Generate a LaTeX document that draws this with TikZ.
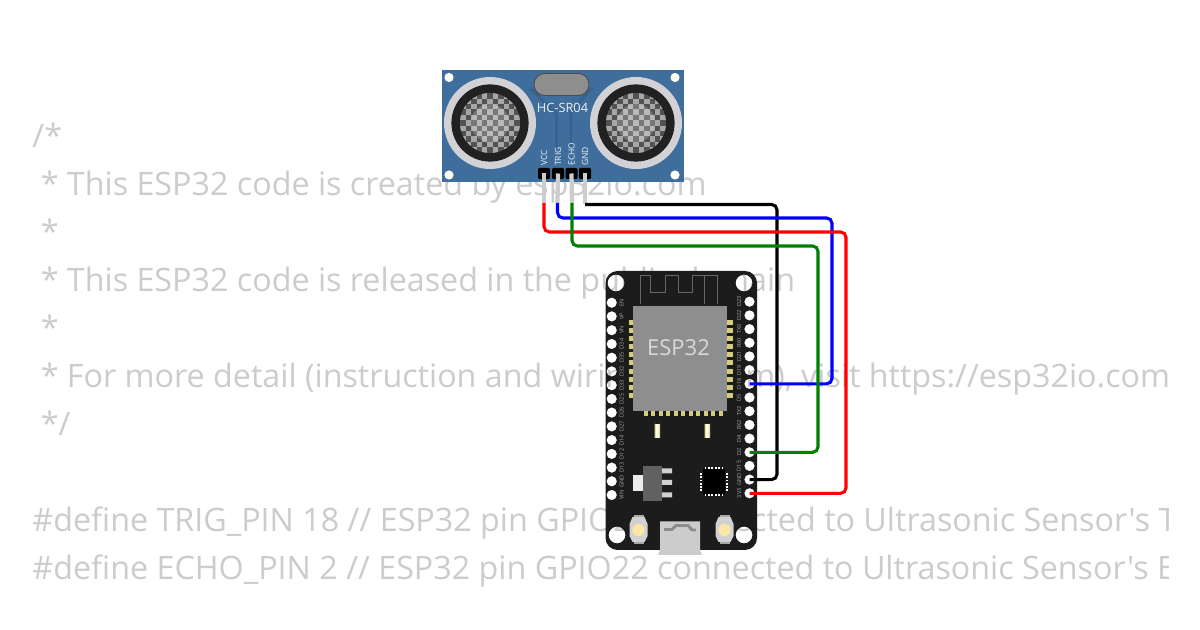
\documentclass[tikz,border=0pt]{standalone}
\usepackage{fontspec}
\usetikzlibrary{calc}
\setmainfont{Open Sans}
\newfontfamily\codefont{Open Sans}
\definecolor{codegray}{HTML}{CCCCCC}
\definecolor{boardblue}{HTML}{3F6E9C}
\definecolor{traceblue}{HTML}{386390}
\definecolor{ringgray}{HTML}{D2D2D6}
\definecolor{boardblack}{HTML}{1C1C1C}
\definecolor{modgray}{HTML}{8E8E8E}
\definecolor{padgold}{HTML}{D6CC7E}
\definecolor{glow}{HTML}{FBE6A8}
\definecolor{wgreen}{HTML}{008000}
\definecolor{stubgray}{HTML}{CDCDCD}
\tikzset{
  codeline/.style={anchor=base west,inner sep=0pt,text=codegray,font=\codefont\fontsize{24.2pt}{24.2pt}\selectfont},
  wire/.style={line width=2.3pt,rounded corners=4pt},
  stub/.style={line width=3.2pt,stubgray},
  pinlabel/.style={rotate=90,inner sep=0pt,text=#1,font=\fontsize{4.2pt}{4.5pt}\selectfont},
  sensorlabel/.style={rotate=90,anchor=west,inner sep=0pt,text=white!90!boardblue,font=\fontsize{6.4pt}{7pt}\selectfont},
  headerpin/.style={fill=black,rounded corners=1.5pt,minimum width=9pt,minimum height=8.6pt,inner sep=0pt},
}
\newcommand{\sensoreye}[2]{%
  \fill[ringgray] (#1,#2) circle (46);
  \fill[black!87] (#1,#2) circle (38.6);
  \begin{scope}
    \clip (#1,#2) circle (30);
    \fill[black!68] (#1-31,#2-31) rectangle (#1+31,#2+31);
    \foreach \i in {-6,...,6}{\foreach \j in {-6,...,6}{%
      \pgfmathtruncatemacro{\chkodd}{mod(\i+\j+24,2)}%
      \ifnum\chkodd=0\relax
        \fill[black!35] ({#1+\i*5.4-2.7},{#2+\j*5.4-2.7}) rectangle ++(5.4,5.4);
      \fi}}
    \fill[white,opacity=.22] (#1,#2) circle (19);
  \end{scope}
}
\begin{document}
\begin{tikzpicture}[x=0.75pt,y=-0.75pt]
\useasboundingbox (0,0) rectangle (1200,630);
\fill[white] (0,0) rectangle (1200,630);
% code text
\begin{scope}
\clip (0,0) rectangle (1168,630);
\node[codeline] (c1) at (32.2,148) {/*};
\node[codeline] (c2) at (40.5,196) {* This ESP32 code is created by esp32io.com};
\node[codeline] (c3) at (40.5,244) {*};
\node[codeline] (c4) at (40.5,292) {* This ESP32 code is released in the public domain};
\node[codeline] (c5) at (40.5,340) {*};
\node[codeline] (c6) at (40.5,388) {* For more detail (instruction and wiring diagram), visit https://esp32io.com};
\node[codeline] (c7) at (40.5,436) {*/};
\node[codeline] (c8) at (32.2,532) {\#define TRIG\_PIN 18 // ESP32 pin GPIO23 connected to Ultrasonic Sensor's TRIG pin};
\node[codeline] (c9) at (32.2,580) {\#define ECHO\_PIN 2 // ESP32 pin GPIO22 connected to Ultrasonic Sensor's ECHO pin};
\end{scope}
% HC-SR04 board
\fill[boardblue] (442,70) rectangle (684,182);
\foreach \x/\y in {449/77.5,675/77.5,449/175,675/175}{\fill[white!96!yellow] (\x,\y) circle (4.6);}
\draw[traceblue,line width=2.2pt] (530,88) -- (556.5,114) -- (556.5,147);
\draw[traceblue,line width=2.2pt] (592,88) -- (571,112) -- (571,147);
\sensoreye{490}{123}
\sensoreye{636}{123}
\fill[modgray,draw=black!70,line width=.7pt,rounded corners=8pt] (534,73.5) rectangle (589,95.5);
\node[inner sep=0pt,text=white!88!boardblue,font=\fontsize{9.6pt}{10pt}\selectfont] (hc) at (562.5,108) {HC-SR04};
\node[sensorlabel] (lv) at (544,166) {VCC};
\node[sensorlabel] (lt) at (558,166) {TRIG};
\node[sensorlabel] (le) at (571.5,166) {ECHO};
\node[sensorlabel] (lg) at (585,166) {GND};
\node[headerpin] (hv) at (544,173.5) {};
\node[headerpin] (ht) at (558,173.5) {};
\node[headerpin] (he) at (571.5,173.5) {};
\node[headerpin] (hg) at (585,173.5) {};
% ESP32 board with real holes
\fill[boardblack,even odd rule]
  [rounded corners=9pt] (605.5,271) rectangle (757,550) [sharp corners]
  \foreach \y in {302.7,316.4,330.2,344,357.7,371.4,385.2,398.9,412.6,426.4,440.1,453.9,467.6,481.3,495}{(611.7,\y) circle (5.2)}
  \foreach \y in {301.7,315.4,329.1,342.8,356.4,370.1,383.8,397.5,411.2,424.9,438.6,452.3,465.9,479.6,493.3}{(749.5,\y) circle (5.2)}
  (616,283) circle (8.4) (744,283) circle (8.4) (617,535) circle (8.4) (744,535) circle (8.4);
\foreach \n/\y in {0/302.7,1/316.4,2/330.2,3/344,4/357.7,5/371.4,6/385.2,7/398.9,8/412.6,9/426.4,10/440.1,11/453.9,12/467.6,13/481.3,14/495}{
  \coordinate (L\n) at (611.7,\y);
}
\foreach \n/\y in {0/301.7,1/315.4,2/329.1,3/342.8,4/356.4,5/370.1,6/383.8,7/397.5,8/411.2,9/424.9,10/438.6,11/452.3,12/465.9,13/479.6,14/493.3}{
  \coordinate (R\n) at (749.5,\y);
}
% antenna
\draw[black!60,line width=.65pt] (640,304) -- (640,275.3) -- (650.7,275.3) -- (650.7,292) -- (665,292) -- (665,275.3) -- (678,275.3) -- (678,292) -- (692,292) -- (692,275.3) -- (717,275.3) -- (717,304);
\draw[black!60,line width=.65pt] (704,275.3) -- (704,304);
% module
\foreach \k in {0,...,9}{
  \fill[padgold] (628.5,{320+\k*8.1}) rectangle (634,{325+\k*8.1});
  \fill[padgold] (727,{320+\k*8.1}) rectangle (733,{325+\k*8.1});
}
\foreach \k in {0,...,10}{
  \fill[padgold] ({643.5+\k*7.5},410) rectangle ({647.5+\k*7.5},416.5);
}
\fill[modgray] (633,306) rectangle (727,411);
\node[inner sep=0pt,text=black!15,font=\fontsize{16.5pt}{17pt}\selectfont] (chip) at (678.5,347.5) {ESP32};
% pin labels
\foreach \n/\t in {0/EN,1/VP,2/VN,3/D34,4/D35,5/D32,6/D33,7/D25,8/D26,9/D27,10/D14,11/D12,12/D13,13/GND,14/VIN}{
  \node[pinlabel=black!35] (ll\n) at ($(L\n)+(10,0)$) {\t};
}
\foreach \n/\t in {0/D23,1/D22,2/TX0,3/RX0,4/D21,5/D19,6/D18,7/D5,8/TX2,9/RX2,10/D4,11/D2,12/D15,13/GND,14/3V3}{
  \node[pinlabel=black!35] (rl\n) at ($(R\n)+(-10.5,0)$) {\t};
}
% small parts
\fill[white!92!yellow] (654.5,424) rectangle (660,438);
\fill[padgold!70!white] (654.5,424) rectangle (655.8,438) (658.7,424) rectangle (660,438);
\fill[white!92!yellow] (704.5,424) rectangle (710,438);
\fill[padgold!70!white] (704.5,424) rectangle (705.8,438) (708.7,424) rectangle (710,438);
% regulator
\fill[black!8] (632.5,474.7) rectangle (643,490.7);
\fill[black!18] (662,468.5) rectangle (672,473.5) (662,480) rectangle (672,485) (662,492.5) rectangle (672,497.5);
\fill[black!62] (642.7,466) rectangle (662,501);
% QFN chip
\fill[black] (703,469) rectangle (725,495);
\foreach \k in {0,...,5}{
  \fill[white] ({704.5+\k*3.4},467.5) rectangle ++(1.8,1.8);
  \fill[white] ({704.5+\k*3.4},494.5) rectangle ++(1.8,1.8);
  \fill[white] (700,{473+\k*3.3}) rectangle ++(1.8,1.8);
  \fill[white] (726,{473+\k*3.3}) rectangle ++(1.8,1.8);
}
% buttons
\foreach \x/\y in {638.5/530,724.5/530}{
  \fill[black!35] (\x-5,\y-15) rectangle (\x+5,\y+14);
  \fill[black!18] (\x-6,\y-13) -- (\x+6,\y-13) -- (\x+9,\y-6) -- (\x+9,\y+6) -- (\x+6,\y+12) -- (\x-6,\y+12) -- (\x-9,\y+6) -- (\x-9,\y-6) -- cycle;
  \fill[glow] (\x,\y) circle (6.2);
}
% USB
\fill[black!20] (660,521.5) -- (700,521.5) -- (700,550) -- (702,555) -- (658,555) -- (660,550) -- cycle;
\draw[black!45,line width=2.2pt,line join=round] (664,529.5) -- (672,529.5) -- (676,525.5) -- (688,525.5) -- (692,530) -- (696,530);
% connectors
\coordinate (sv) at (544,203);
\coordinate (st) at (557.5,203);
\coordinate (se) at (572,203);
\coordinate (sg) at (585,204.5);
\draw[stub] (hv.center) -- (sv);
\draw[stub] (ht.center) -- (st);
\draw[stub] (he.center) -- (se);
\draw[stub] (hg.center) -- (sg);
\draw[wire,black] (sg) -- (777,204.5) -- (777,479.6) -- (R13);
\draw[wire,blue] (st) -- (557.5,218) -- (832,218) -- (832,383.8) -- (R6);
\draw[wire,red] (sv) -- (544,232) -- (846,232) -- (846,493.3) -- (R14);
\draw[wire,wgreen] (se) -- (572,246) -- (818,246) -- (818,452.3) -- (R11);
\end{tikzpicture}
\end{document}
